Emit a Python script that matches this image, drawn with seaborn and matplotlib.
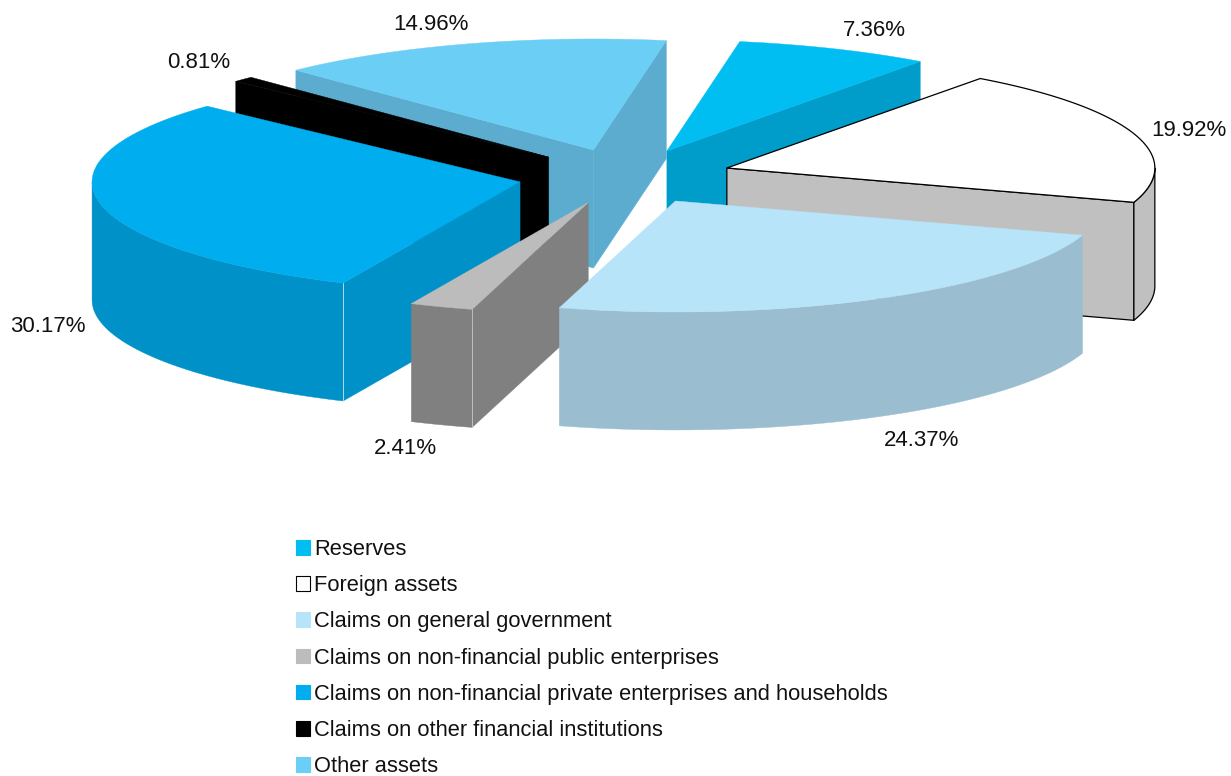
import numpy as np
import matplotlib
matplotlib.use("Agg")
import matplotlib.pyplot as plt
from matplotlib.patches import Patch
import seaborn as sns

categories = ["Reserves", "Foreign assets", "Claims on general government",
              "Claims on non-financial public enterprises",
              "Claims on non-financial private enterprises and households",
              "Claims on other financial institutions", "Other assets"]
values = [7.36, 19.92, 24.37, 2.41, 30.17, 0.81, 14.96]
top_colors = ["#00BEF2", "#FFFFFF", "#B8E4F9", "#BCBCBC", "#00AEEF", "#000000", "#6ACEF5"]
wall_colors = ["#009DCB", "#C0C0C0", "#9ABDD0", "#808080", "#0091C8", "#000000", "#5BACCE"]
label_pos = [(874, 30), (1189, 130.5), (922, 441), (405, 448), (48, 327), (199, 63), (431, 25)]

# back to front, so the nearer slices cover the others
draw_order = [0, 1, 6, 5, 4, 3, 2]

cx, cy = 625, 176.5
rx, ry = 428, 111
depth = 118
explode = 0.25
start_angle = 80.2

sns.set_theme(style="white")
plt.rcParams["font.family"] = ["Liberation Sans", "DejaVu Sans"]

fig = plt.figure(figsize=(12.31, 7.76), dpi=100)
ax = fig.add_axes([0, 0, 1, 1])
ax.set_xlim(0, 1231)
ax.set_ylim(776, 0)
ax.axis("off")


def to_xy(angle, tip, r=1.0):
    t = np.radians(angle)
    return tip[0] + r * rx * np.cos(t), tip[1] - r * ry * np.sin(t)


def add_wall(xs, ys, color, edge):
    xs = np.asarray(xs)
    ys = np.asarray(ys)
    lw = 0.9 if edge == "black" else 0.3
    ax.fill(np.r_[xs, xs[::-1]], np.r_[ys, ys[::-1] + depth],
            facecolor=color, edgecolor=edge, linewidth=lw, joinstyle="round")


ends = start_angle - np.cumsum(values) * 3.6
starts = np.r_[start_angle, ends[:-1]]

for i in draw_order:
    a, b = starts[i], ends[i]
    mid = (a + b) / 2
    tip = to_xy(mid, (cx, cy), explode)
    line = "black" if top_colors[i] == "#FFFFFF" else wall_colors[i]

    # radial walls only show when they face the viewer
    if np.cos(np.radians(a)) < 0:
        ex, ey = to_xy(a, tip)
        add_wall([tip[0], ex], [tip[1], ey], wall_colors[i], line)
    if np.cos(np.radians(b)) > 0:
        ex, ey = to_xy(b, tip)
        add_wall([tip[0], ex], [tip[1], ey], wall_colors[i], line)

    # outer wall, front half of the ellipse only
    lo, hi = max(b, -180), min(a, 0)
    if hi > lo:
        arc_xs, arc_ys = to_xy(np.linspace(hi, lo, 60), tip)
        add_wall(arc_xs, arc_ys, wall_colors[i], line)

    arc_x, arc_y = to_xy(np.linspace(a, b, 120), tip)
    top_edge = "black" if top_colors[i] == "#FFFFFF" else top_colors[i]
    ax.fill(np.r_[tip[0], arc_x], np.r_[tip[1], arc_y], facecolor=top_colors[i],
            edgecolor=top_edge, linewidth=0.9 if top_edge == "black" else 0.3)

    # pale seam where the flat side meets the curved side
    if categories[i].startswith("Claims on non-financial"):
        sx, sy = to_xy(a, tip)
        ax.plot([sx, sx], [sy, sy + depth], color="#C9E6F2" if i == 4 else "#C8C8C8", lw=0.6)

for v, (x, y) in zip(values, label_pos):
    ax.text(x, y, f"{v:.2f}%", ha="center", va="center", fontsize=16, color="#111111")

handles = [Patch(facecolor=c, edgecolor="black" if c == "#FFFFFF" else c, linewidth=0.8, label=n)
           for c, n in zip(top_colors, categories)]
ax.legend(handles=handles, loc="upper left", bbox_to_anchor=(296 / 1231, 1 - 539 / 776),
          frameon=False, fontsize=15.75, labelcolor="#111111", handlelength=0.64, handleheight=0.64,
          handletextpad=0.2, labelspacing=0.695, borderpad=0, borderaxespad=0)

fig.savefig("out.png", dpi=100)
